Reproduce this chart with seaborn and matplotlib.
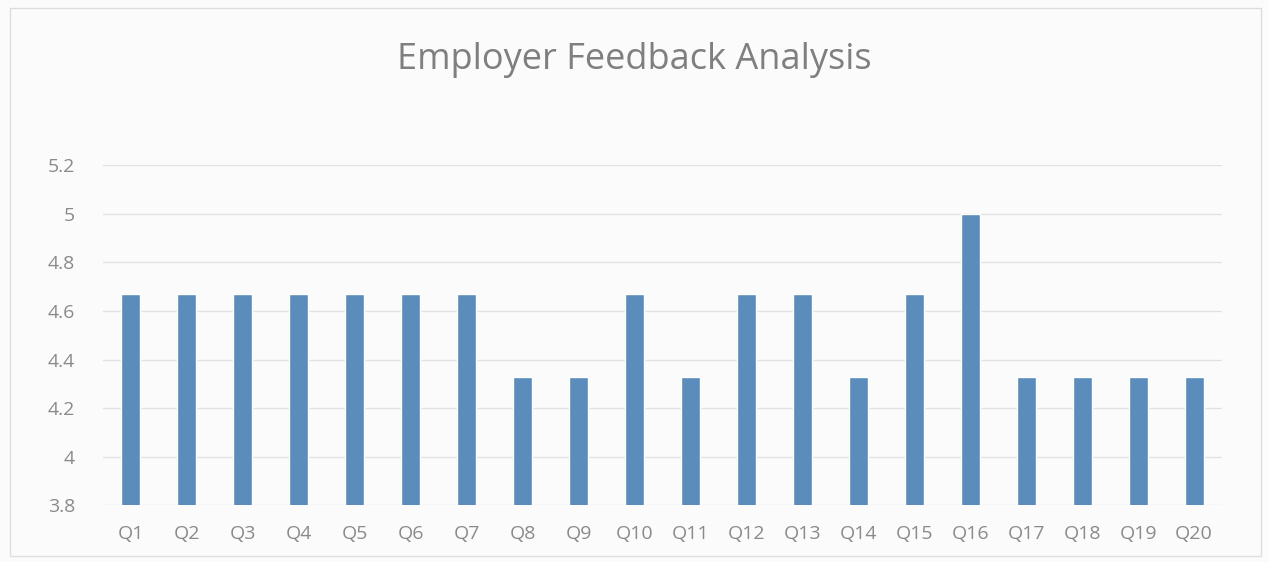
import matplotlib
matplotlib.use("Agg")
import matplotlib.pyplot as plt
import seaborn as sns
import pandas as pd
from matplotlib.patches import Rectangle

# question labels and average scores
questions = [f"Q{i}" for i in range(1, 21)]
scores = [4.67, 4.67, 4.67, 4.67, 4.67, 4.67, 4.67, 4.33, 4.33, 4.67,
          4.33, 4.67, 4.67, 4.33, 4.67, 5.0, 4.33, 4.33, 4.33, 4.33]
yticks = [3.8, 4.0, 4.2, 4.4, 4.6, 4.8, 5.0, 5.2]
ytick_labels = ["3.8", "4", "4.2", "4.4", "4.6", "4.8", "5", "5.2"]

df = pd.DataFrame({"question": questions, "score": scores})

sns.set_theme(style="white")
plt.rcParams["font.family"] = ["Open Sans", "DejaVu Sans"]

fig = plt.figure(figsize=(12.69, 5.62), dpi=100, facecolor="#fbfbfb")
ax = fig.add_axes([0.081, 0.101, 0.882, 0.605])
ax.set_facecolor("#fbfbfb")

sns.barplot(data=df, x="question", y="score", color="#5A8CBC",
            width=0.34, saturation=1, ax=ax)

ax.set_ylim(3.8, 5.2)
ax.set_yticks(yticks)
ax.set_yticklabels(ytick_labels)
ax.set_xlim(-0.5, len(questions) - 0.5)
ax.yaxis.grid(True, color="#e2e2e2", linewidth=1)
ax.set_axisbelow(True)
for s in ax.spines.values():
    s.set_visible(False)
ax.tick_params(axis="both", length=0, labelsize=14, colors="#8a8a8a")
ax.tick_params(axis="x", pad=14)
ax.tick_params(axis="y", pad=20)
ax.set_xlabel("")
ax.set_ylabel("")

fig.text(0.5, 0.893, "Employer Feedback Analysis", ha="center", va="center",
         fontsize=26, color="#7f7f7f")

# light chart border like the Excel chart frame
fig.patches.append(Rectangle((0.008, 0.01), 0.986, 0.975, transform=fig.transFigure,
                             fill=False, edgecolor="#dddddd", linewidth=1))

fig.savefig("out.png", dpi=100, facecolor=fig.get_facecolor())
